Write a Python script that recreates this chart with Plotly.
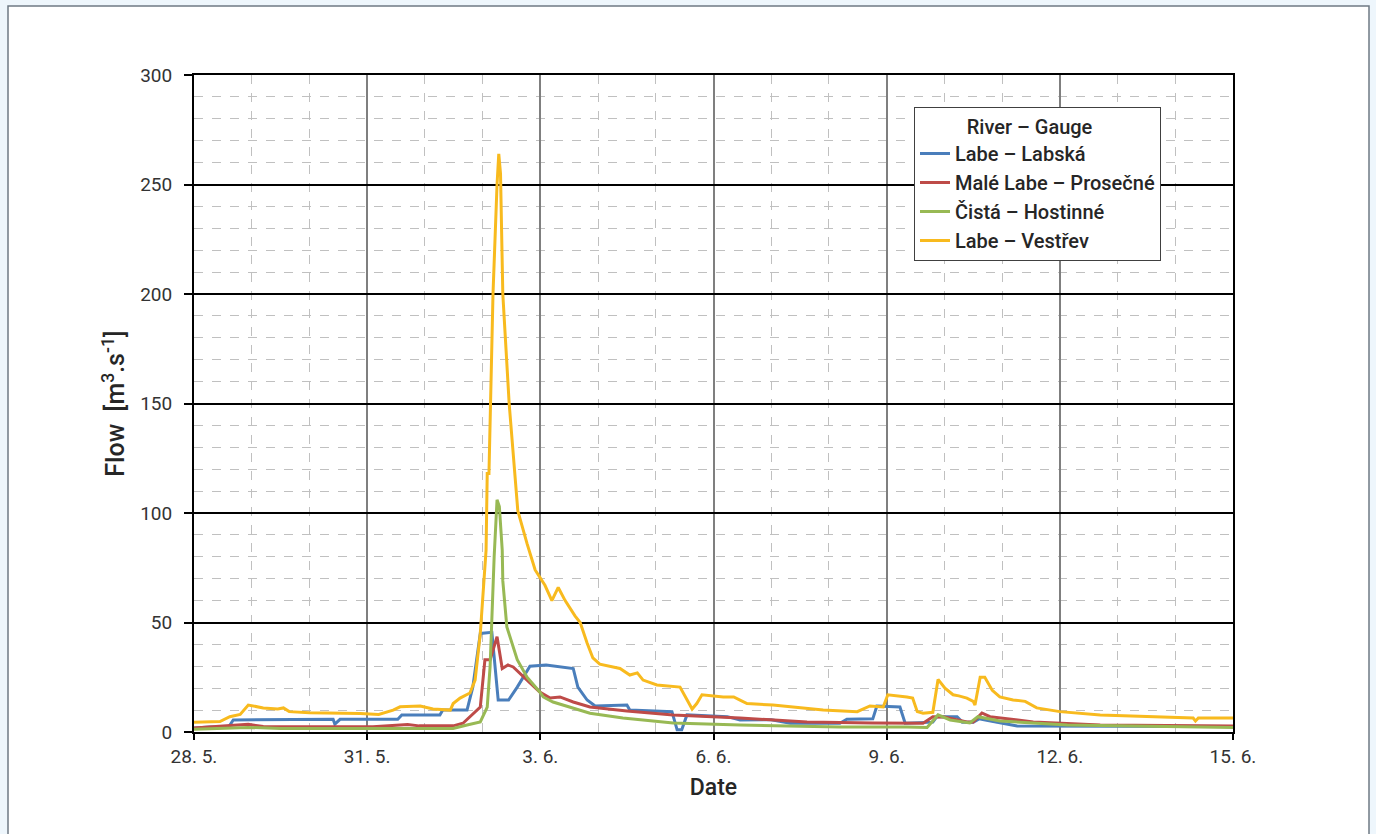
import pandas as pd
import plotly.graph_objects as go

START = "2013-05-28"

# Labe – Labská
blue_d = [0, 0.28, 0.6, 0.68, 2.41, 2.44, 2.53, 3.53, 3.6, 4.26, 4.31, 4.73, 4.83, 4.96, 5.16, 5.27,
          5.45, 5.6, 5.82, 6.1, 6.57, 6.65, 6.81, 6.95, 7.5, 7.55, 8.28, 8.37, 8.45, 8.54, 9.24, 9.46,
          10.0, 10.33, 11.19, 11.31, 11.76, 11.83, 12.23, 12.32, 12.8, 12.87, 13.22, 13.31, 13.5,
          13.6, 13.8, 14.26, 18.0]
blue_v = [1.8, 2.3, 2.3, 5.5, 5.8, 3.6, 5.8, 5.8, 7.8, 7.8, 10, 10, 20.5, 45, 45.5, 14.6,
          14.6, 20.5, 30, 30.6, 29, 20.5, 14.6, 11.9, 12.3, 10, 9.3, 1, 1, 7.8, 7, 5.5,
          5.6, 4, 4, 5.8, 6, 11.9, 11.4, 4, 4.5, 7, 7, 4.5, 4.5,
          6, 5, 2.7, 2.5]

# Malé Labe – Prosečné
red_d = [0, 0.94, 1.2, 3.1, 3.57, 3.7, 3.9, 4.49, 4.66, 4.96, 5.04, 5.13, 5.25, 5.34, 5.44, 5.53,
         5.77, 5.99, 6.17, 6.34, 6.57, 6.86, 7.5, 8.3, 9.46, 10.62, 11.76, 12.63, 12.8, 13.0, 13.39,
         13.5, 13.65, 13.79, 14.54, 15.7, 18.0]
red_v = [1.8, 3.5, 2.5, 2.4, 3.2, 3.4, 2.8, 2.8, 4, 11.4, 33, 33, 43.5, 29, 30.6, 29.7,
         23.7, 18.3, 15.5, 16, 13.7, 11.4, 9.6, 7.8, 6.4, 4.6, 4.1, 4, 7, 6.8, 4.6,
         4.6, 8.7, 7, 4.6, 3.2, 2.7]

# Čistá – Hostinné
green_d = [0, 0.94, 1.5, 4.49, 4.73, 4.96, 5.08, 5.13, 5.2, 5.25, 5.29, 5.34, 5.35, 5.42, 5.6,
           5.77, 5.99, 6.05, 6.22, 6.46, 6.86, 7.43, 8.3, 9.46, 11.19, 12.35, 12.7, 12.89, 13.1,
           13.44, 13.58, 13.96, 15.13, 18.0]
green_v = [1.3, 2.1, 1.6, 1.6, 3.2, 4.6, 11.4, 30, 80, 106, 103, 83, 69, 48, 33,
           25, 18.3, 16, 13.7, 11.9, 8.6, 6.4, 4.1, 3.2, 2.3, 2.3, 2.1, 7.8, 5.5,
           4.1, 7, 5, 3.2, 2]

# Labe – Vestřev
yellow_d = [0, 0.45, 0.62, 0.8, 0.94, 1.2, 1.45, 1.55, 1.65, 2.0, 2.88, 3.2, 3.45, 3.57, 3.92,
            4.14, 4.44, 4.49, 4.61, 4.78, 4.87, 4.96, 5.06, 5.08, 5.11, 5.18, 5.25, 5.28, 5.31,
            5.35, 5.46, 5.61, 5.77, 5.91, 6.08, 6.2, 6.31, 6.43, 6.6, 6.69, 6.81, 6.91, 7.03,
            7.38, 7.55, 7.68, 7.78, 8.02, 8.42, 8.54, 8.63, 8.71, 8.8, 9.17, 9.35, 9.46, 9.58,
            10.03, 10.5, 10.9, 11.49, 11.71, 11.94, 12.02, 12.35, 12.45, 12.53, 12.63, 12.8,
            12.89, 13.01, 13.15, 13.25, 13.39, 13.5, 13.53, 13.62, 13.7, 13.83, 13.96, 14.19,
            14.4, 14.6, 15.0, 15.7, 16.56, 17.31, 17.35, 17.4, 18.0]
yellow_v = [4.5, 4.8, 7, 8, 12.3, 11, 10.5, 11, 9.3, 8.8, 8.5, 8, 10, 11.5, 11.9,
            10.5, 10, 13, 15.5, 17.8, 23.7, 45, 83, 118, 118, 200, 250, 264, 255,
            200, 150, 101, 86, 74, 67, 60, 66, 60, 53, 50, 40.6, 33.8, 31,
            29, 26, 27, 23.7, 21.5, 20.5, 14.6, 10.5, 13, 17, 16, 16, 14.6, 13,
            12.3, 11, 10, 9.3, 11.9, 11.4, 17, 16, 15.5, 9.3, 8.6, 9,
            24, 20, 17, 16.5, 15.5, 14, 12.3, 25, 25, 19, 16, 14.6,
            14, 11, 9.3, 7.8, 7, 6.4, 5, 6.4, 6.4]

series = [
    ("Labe – Labská", blue_d, blue_v, "#4A7EBB"),
    ("Malé Labe – Prosečné", red_d, red_v, "#BE4B48"),
    ("Čistá – Hostinné", green_d, green_v, "#98B954"),
    ("Labe – Vestřev", yellow_d, yellow_v, "#F8BA1E"),
]

FONT = "Roboto"
fig = go.Figure()
for name, d, v, col in series:
    x = pd.Timestamp(START) + pd.to_timedelta(d, unit="D")
    fig.add_trace(go.Scatter(x=x, y=v, mode="lines", name=name,
                             line=dict(color=col, width=3)))

# outer white panel
fig.add_shape(type="rect", xref="paper", yref="paper",
              x0=(8 - 194) / 1039, x1=(1369 - 194) / 1039,
              y0=(732 - 860) / 657, y1=(732 - 6) / 657,
              fillcolor="white", line=dict(color="#6F7A84", width=1.5), layer="below")

fig.update_layout(
    width=1376, height=834,
    margin=dict(l=194, r=143, t=75, b=102),
    paper_bgcolor="#EEF6FC", plot_bgcolor="white",
    font=dict(family=FONT, size=19, color="#262626"),
    showlegend=True,
    legend=dict(x=(914 - 194) / 1039, y=(732 - 107) / 657, xanchor="left", yanchor="top",
                bgcolor="white", bordercolor="#404040", borderwidth=1,
                font=dict(family=FONT, size=20, color="#262626", weight=500),
                title=dict(text="\u00a0\u00a0\u00a0\u00a0\u00a0\u00a0\u00a0\u00a0\u00a0\u00a0River – Gauge",
                           font=dict(family=FONT, size=20, weight=500)),
                tracegroupgap=0, itemwidth=30, entrywidth=215, entrywidthmode="pixels"),
    xaxis=dict(type="date", range=["2013-05-28", "2013-06-15"],
               tick0="2013-05-28", dtick=3 * 86400000, tickformat="%-d. %-m.",
               showgrid=True, gridcolor="#7F7F7F", gridwidth=1.5,
               minor=dict(dtick=86400000, showgrid=True, gridcolor="#C0C0C0",
                          griddash="dash", gridwidth=1),
               showline=True, linecolor="black", linewidth=2, mirror=True,
               ticks="outside", ticklen=6, tickcolor="black", tickwidth=1.5,
               tickfont=dict(size=19, color="#333"),
               title=dict(text="Date", font=dict(size=23, color="#262626", weight=500), standoff=12),
               zeroline=False),
    yaxis=dict(range=[0, 300], dtick=50, tick0=0,
               showgrid=True, gridcolor="black", gridwidth=2,
               minor=dict(dtick=10, showgrid=True, gridcolor="#C0C0C0",
                          griddash="dash", gridwidth=1),
               showline=True, linecolor="black", linewidth=2, mirror=True,
               ticks="outside", ticklen=8, tickcolor="black", tickwidth=1.5,
               ticklabelstandoff=8,
               tickfont=dict(size=19, color="#333"),
               title=dict(text="Flow  [m<sup>3</sup>.s<sup>-1</sup>]",
                          font=dict(size=25, color="#262626", weight=500), standoff=8),
               zeroline=False),
)

fig.write_html("out.html")
